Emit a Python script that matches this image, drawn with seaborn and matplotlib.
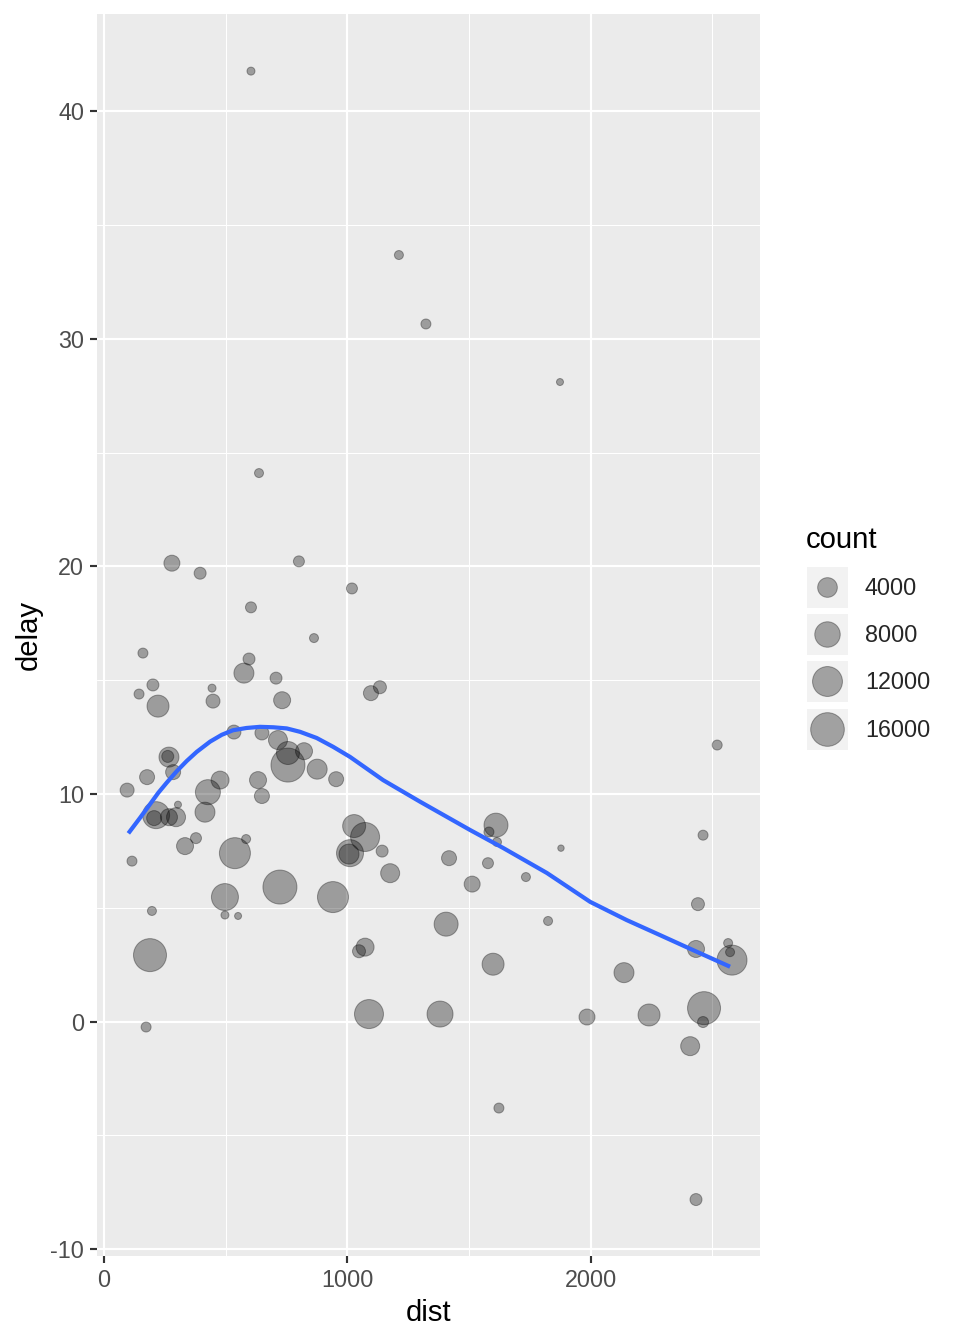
"""
delay vs dist per tujuan, ukuran titik = jumlah penerbangan
"""

import numpy as np
import pandas as pd
import matplotlib
matplotlib.use("Agg")
import matplotlib.pyplot as plt
import matplotlib.colors as mcolors
from matplotlib.lines import Line2D
from matplotlib.legend_handler import HandlerTuple
import seaborn as sns

# data
dist = [604, 1212, 1323, 1874, 637, 279, 395, 801, 1019, 604,
        863, 160, 596, 575, 707, 201, 144, 444, 448, 222,
        732, 1134, 1097, 534, 649, 715, 756, 756, 822, 876,
        954, 267, 262, 284, 177, 95, 477, 427, 633, 649,
        304, 415, 214, 206, 267, 296, 333, 378, 584, 538,
        115, 723, 497, 497, 551, 197, 189, 173, 941, 1028,
        1073, 1011, 1007, 1143, 1176, 1048, 1073, 1089, 1381, 1406,
        1418, 1513, 1611, 1582, 1615, 1578, 1599, 1623, 1734, 1825,
        1878, 1985, 2137, 2240, 2409, 2433, 2520, 2462, 2441, 2433,
        2466, 2462, 2565, 2573, 2581]
delay = [41.76, 33.68, 30.65, 28.10, 24.10, 20.14, 19.70, 20.22, 19.03, 18.20,
         16.85, 16.19, 15.93, 15.31, 15.09, 14.79, 14.39, 14.65, 14.08, 13.86,
         14.12, 14.69, 14.43, 12.72, 12.68, 12.37, 11.80, 11.27, 11.88, 11.09,
         10.65, 11.62, 11.65, 10.96, 10.74, 10.17, 10.61, 10.08, 10.61, 9.91,
         9.53, 9.20, 9.07, 8.94, 8.98, 8.98, 7.71, 8.06, 8.02, 7.40,
         7.05, 5.91, 5.47, 4.68, 4.64, 4.86, 2.92, -0.24, 5.47, 8.59,
         8.11, 7.40, 7.36, 7.49, 6.52, 3.09, 3.27, 0.33, 0.33, 4.28,
         7.18, 6.04, 8.63, 8.33, 7.89, 6.96, 2.52, -3.80, 6.35, 4.42,
         7.62, 0.20, 2.15, 0.29, -1.08, -7.82, 12.15, 8.19, 5.16, 3.19,
         0.59, -0.02, 3.45, 3.05, 2.70]
count = [108, 223, 379, 35, 223, 2172, 812, 575, 575, 575,
         223, 379, 812, 4187, 812, 812, 379, 108, 1410, 5440,
         2614, 1091, 1771, 1410, 1410, 3622, 6128, 16400, 2614, 4187,
         1771, 4187, 812, 1771, 1771, 1410, 3097, 7627, 2614, 1771,
         35, 4187, 9290, 1771, 2614, 3622, 2614, 575, 223, 13107,
         379, 16400, 9290, 108, 35, 223, 15260, 379, 13107, 6128,
         11116, 9290, 4187, 812, 3622, 1091, 3097, 11116, 8437, 6858,
         1771, 2172, 6858, 379, 223, 575, 5440, 379, 223, 223,
         10, 2172, 4187, 5440, 3622, 812, 379, 379, 1091, 2614,
         15260, 575, 223, 223, 12090]

# kurva loess
smooth_dist = [100, 148, 189, 223, 258, 299, 340, 381, 436,
               484, 530, 586, 641, 696, 751, 806, 874, 942, 1011,
               1147, 1299, 1504, 1640, 1820, 1998, 2148, 2285, 2421, 2573]
smooth_delay = [8.27, 8.95, 9.55, 10.05, 10.50, 11.00, 11.45, 11.85, 12.30,
                12.60, 12.80, 12.90, 12.95, 12.93, 12.88, 12.73, 12.46, 12.07, 11.63,
                10.61, 9.66, 8.42, 7.63, 6.53, 5.26, 4.46, 3.80, 3.14, 2.41]

legend_counts = [4000, 8000, 12000, 16000]


def area(c):
    # skala luas ala ggplot: diameter ~ sqrt(count)
    c = np.clip(np.asarray(c, dtype=float), 0, None)
    return ((5.7 + 0.221 * np.sqrt(c)) / 2) ** 2


def area_inv(s):
    s = np.clip(np.asarray(s, dtype=float), 0, None)
    return np.clip((2 * np.sqrt(s) - 5.7) / 0.221, 0, None) ** 2


def main():
    df = pd.DataFrame({"dist": dist, "delay": delay, "count": count})

    sns.set_style("darkgrid")
    plt.rcParams["font.family"] = ["Liberation Sans", "DejaVu Sans"]
    plt.rcParams["axes.unicode_minus"] = False

    fig = plt.figure(figsize=(960 / 144, 1344 / 144), dpi=144)
    ax = fig.add_axes([97 / 960, 1 - 1256 / 1344, 663 / 960, 1242 / 1344])
    ax.set_facecolor("#EBEBEB")

    sns.scatterplot(data=df, x="dist", y="delay", size="count",
                    sizes=(float(area(0)), float(area(17000))),
                    size_norm=mcolors.FuncNorm((area, area_inv), vmin=0, vmax=17000),
                    color="black", alpha=1 / 3, edgecolor="black", linewidth=0.5,
                    legend=False, ax=ax, zorder=3)
    sns.lineplot(x=smooth_dist, y=smooth_delay, color="#3366FF", linewidth=2.1,
                 estimator=None, ax=ax, zorder=4)
    ax.lines[-1].set_solid_capstyle("butt")
    ax.lines[-1].set_solid_joinstyle("round")

    ax.set_xlim(-28.8, 2696)
    ax.set_ylim(-10.30, 44.27)
    ax.set_xticks([0, 1000, 2000])
    ax.set_xticks([500, 1500, 2500], minor=True)
    ax.set_yticks([-10, 0, 10, 20, 30, 40])
    ax.set_yticks([-5, 5, 15, 25, 35], minor=True)
    ax.grid(which="major", color="white", linewidth=1.07)
    ax.grid(which="minor", color="white", linewidth=0.53)
    ax.set_axisbelow(True)
    for s in ax.spines.values():
        s.set_visible(False)
    ax.tick_params(which="major", length=3.5, width=1.07, color="#333333",
                   labelcolor="#4D4D4D", labelsize=11.7, pad=2.9,
                   bottom=True, left=True)
    ax.tick_params(which="minor", length=0)

    ax.set_xlabel("dist", fontsize=14.6, color="black", labelpad=3.7)
    ax.set_ylabel("delay", fontsize=14.6, color="black", labelpad=3.7)

    # legenda ukuran
    fig.text(806 / 960, 1 - 548 / 1344, "count", fontsize=14.6, color="black",
             ha="left", va="baseline")
    handles = []
    for c in legend_counts:
        key = Line2D([], [], ls="", marker="s", markersize=21.5,
                     markerfacecolor="#F2F2F2", markeredgecolor="white",
                     markeredgewidth=1)
        dot = Line2D([], [], ls="", marker="o", markersize=float(np.sqrt(area(c))),
                     markerfacecolor=(0, 0, 0, 1 / 3), markeredgecolor=(0, 0, 0, 1 / 3),
                     markeredgewidth=0.5)
        handles.append((key, dot))
    leg = fig.legend(handles, [str(c) for c in legend_counts],
                     handler_map={tuple: HandlerTuple(ndivide=1)},
                     loc="upper left", bbox_to_anchor=(804 / 960, 1 - 572 / 1344),
                     frameon=False, fontsize=11.7,
                     handlelength=1.95, handleheight=2.58, labelspacing=0.1,
                     handletextpad=0.65, borderpad=0, borderaxespad=0)
    # teks label sedikit naik supaya sejajar dengan tengah kotak
    for t in leg.get_texts():
        t.set_position((0, 7))

    plt.savefig("out.png", dpi=144)
    plt.close()


if __name__ == "__main__":
    main()
